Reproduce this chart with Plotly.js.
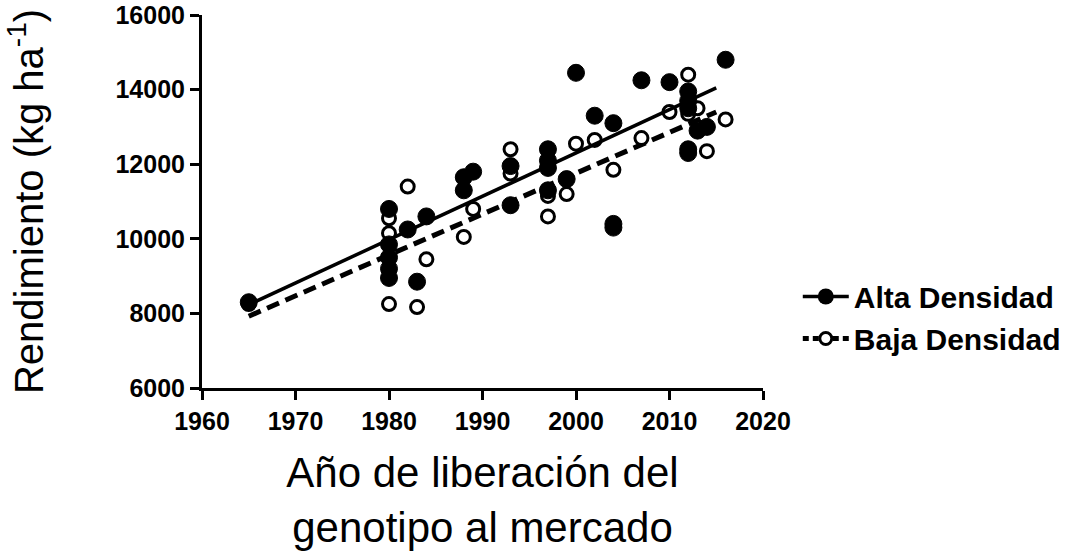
<!DOCTYPE html>
<html>
<head>
<meta charset="utf-8">
<script src="https://cdn.plot.ly/plotly-3.0.1.min.js"></script>
<style>
  html, body { margin: 0; padding: 0; background: #fff; }
  #chart { width: 1078px; height: 553px; }
</style>
</head>
<body>
<div id="chart"></div>
<script>
// ---- Data ----
const altaYears = [1965, 1980, 1980, 1980, 1980, 1980, 1982, 1983, 1984, 1988, 1988, 1989,
                   1993, 1993, 1997, 1997, 1997, 1997, 1999, 2000, 2002, 2004, 2004, 2004,
                   2007, 2010, 2012, 2012, 2012, 2012, 2012, 2013, 2014, 2016];
const altaYield = [8300, 10800, 9850, 9500, 9200, 8950, 10250, 8850, 10600, 11650, 11300, 11800,
                   11950, 10900, 12400, 12100, 11900, 11300, 11600, 14450, 13300, 13100, 10400, 10300,
                   14250, 14200, 13950, 13700, 13500, 12400, 12300, 12900, 13000, 14800];

const bajaYears = [1965, 1980, 1980, 1980, 1982, 1983, 1984, 1988, 1989, 1993, 1993,
                   1997, 1997, 1999, 2000, 2002, 2004, 2007, 2010, 2012, 2012, 2013, 2014, 2016];
const bajaYield = [8250, 10550, 10150, 8250, 11400, 8170, 9450, 10050, 10800, 12400, 11750,
                   11150, 10600, 11200, 12550, 12650, 11850, 12700, 13400, 14400, 13350, 13500, 12350, 13200];

// Regression lines (end points)
const fitYears = [1965, 2015];
const altaFit = [8235, 14045];
const bajaFit = [7925, 13400];

const xTicks = [1960, 1970, 1980, 1990, 2000, 2010, 2020];
const yTicks = [6000, 8000, 10000, 12000, 14000, 16000];

const seriesNames = ['Alta Densidad', 'Baja Densidad'];

// ---- Styling ----
const FONT = 'Liberation Sans, Arial, Helvetica, sans-serif';

const traces = [
  { x: fitYears, y: bajaFit, mode: 'lines', showlegend: false, hoverinfo: 'skip',
    line: { color: '#000', width: 5, dash: '13px,7px' } },
  { x: bajaYears, y: bajaYield, mode: 'markers', showlegend: false,
    marker: { symbol: 'circle', size: 13, color: '#fff', line: { color: '#000', width: 3 } } },
  { x: fitYears, y: altaFit, mode: 'lines', showlegend: false, hoverinfo: 'skip',
    line: { color: '#000', width: 3.5 } },
  { x: altaYears, y: altaYield, mode: 'markers', showlegend: false,
    marker: { symbol: 'circle', size: 17, color: '#000', line: { color: '#000', width: 1 } } },
  { x: [null], y: [null], mode: 'lines+markers', name: seriesNames[0], legendrank: 1,
    line: { color: '#000', width: 3.5 },
    marker: { symbol: 'circle', size: 16, color: '#000' } },
  { x: [null], y: [null], mode: 'lines+markers', name: seriesNames[1], legendrank: 2,
    line: { color: '#000', width: 5, dash: '6px,4px' },
    marker: { symbol: 'circle', size: 12, color: '#fff', line: { color: '#000', width: 3 } } }
];

const layout = {
  width: 1078, height: 553,
  paper_bgcolor: '#fff', plot_bgcolor: '#fff',
  margin: { l: 202, r: 313, t: 15, b: 165 },
  font: { family: FONT, color: '#000' },
  xaxis: {
    range: [1960, 2020], tickvals: xTicks, ticktext: xTicks.map(String),
    showgrid: false, zeroline: false,
    showline: true, linecolor: '#000', linewidth: 3,
    ticks: 'outside', ticklen: 9, tickwidth: 3, tickcolor: '#000',
    tickfont: { family: FONT, size: 25, weight: 'bold', color: '#000' },
    title: { text: 'Año de liberación del<br>genotipo al mercado',
             font: { family: FONT, size: 42, color: '#000' }, standoff: 24 },
    automargin: false, fixedrange: true
  },
  yaxis: {
    range: [6000, 16000], tickvals: yTicks, ticktext: yTicks.map(String),
    showgrid: false, zeroline: false,
    showline: true, linecolor: '#000', linewidth: 3,
    ticks: 'outside', ticklen: 9, tickwidth: 3, tickcolor: '#000',
    tickfont: { family: FONT, size: 25, weight: 'bold', color: '#000' },
    title: { text: 'Rendimiento (kg ha<sup>-1</sup>)',
             font: { family: FONT, size: 40, color: '#000' }, standoff: 60 },
    automargin: false, fixedrange: true
  },
  legend: {
    x: 1.062, xanchor: 'left', y: 0.315, yanchor: 'top',
    font: { family: FONT, size: 30, weight: 'bold', color: '#000' },
    bgcolor: 'rgba(0,0,0,0)', borderwidth: 0, itemwidth: 46,
    tracegroupgap: 0, itemclick: false, itemdoubleclick: false
  },
  showlegend: true
};

Plotly.newPlot('chart', traces, layout, { displayModeBar: false, staticPlot: true });
</script>
</body>
</html>
